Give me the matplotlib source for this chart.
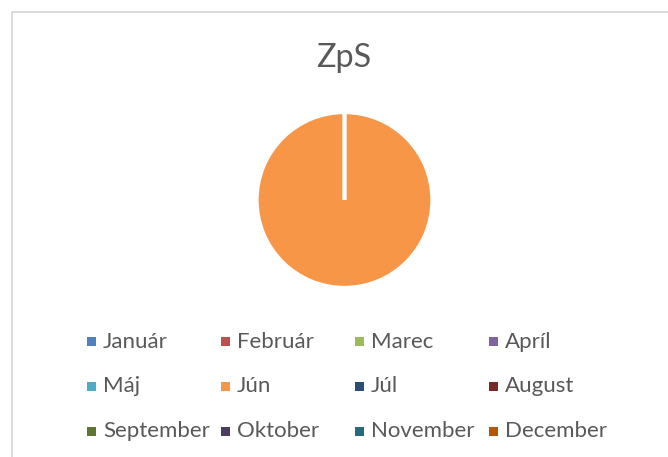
import matplotlib
matplotlib.use('Agg')
import matplotlib.pyplot as plt
from matplotlib.patches import Rectangle

# Data
months = ['Január', 'Február', 'Marec', 'Apríl', 'Máj', 'Jún',
          'Júl', 'August', 'September', 'Oktober', 'November', 'December']
values = [0, 0, 0, 0, 0, 1, 0, 0, 0, 0, 0, 0]
colors = ['#4F81BD', '#C0504D', '#9BBB59', '#8064A2', '#4BACC6', '#F79646',
          '#2C4D75', '#772C2A', '#5F7530', '#4D3B62', '#276A7C', '#B65708']
title = 'ZpS'

W, H = 668, 457
text_color = '#595959'
plt.rcParams['font.family'] = ['Lato', 'DejaVu Sans']

fig = plt.figure(figsize=(W / 100, H / 100), dpi=100)

# chart area border (runs off the right/bottom edge)
fig.patches.append(Rectangle((11.5 / W, -0.1), 1.2, 1 - 12.5 / H + 0.1,
                             transform=fig.transFigure, fill=False,
                             edgecolor='#D9D9D9', linewidth=1.3))

# pie
cx, cy, r = 344.5, 200, 87.5
ax = fig.add_axes([(cx - r) / W, (H - cy - r) / H, 2 * r / W, 2 * r / H])
ax.pie(values, colors=colors, startangle=90, counterclock=False, radius=1.0,
       wedgeprops=dict(edgecolor='white', linewidth=2.4))
ax.set_xlim(-1, 1)
ax.set_ylim(-1, 1)
ax.set_aspect('equal')
ax.axis('off')

fig.text(343.5 / W, 1 - 67 / H, title, ha='center', va='baseline',
         fontsize=23.3, color=text_color)

# legend, 4 columns x 3 rows like Excel
col_x = [87, 221, 355, 489]
row_y = [341.5, 386.5, 431]
for i, (m, c) in enumerate(zip(months, colors)):
    x = col_x[i % 4]
    y = row_y[i // 4]
    fig.patches.append(Rectangle((x / W, 1 - (y + 4.5) / H), 9 / W, 9 / H,
                                 transform=fig.transFigure, facecolor=c,
                                 edgecolor='none'))
    fig.text((x + 16) / W, 1 - y / H, m, ha='left', va='center',
             fontsize=16, color=text_color)

fig.savefig('out.png', dpi=100)
